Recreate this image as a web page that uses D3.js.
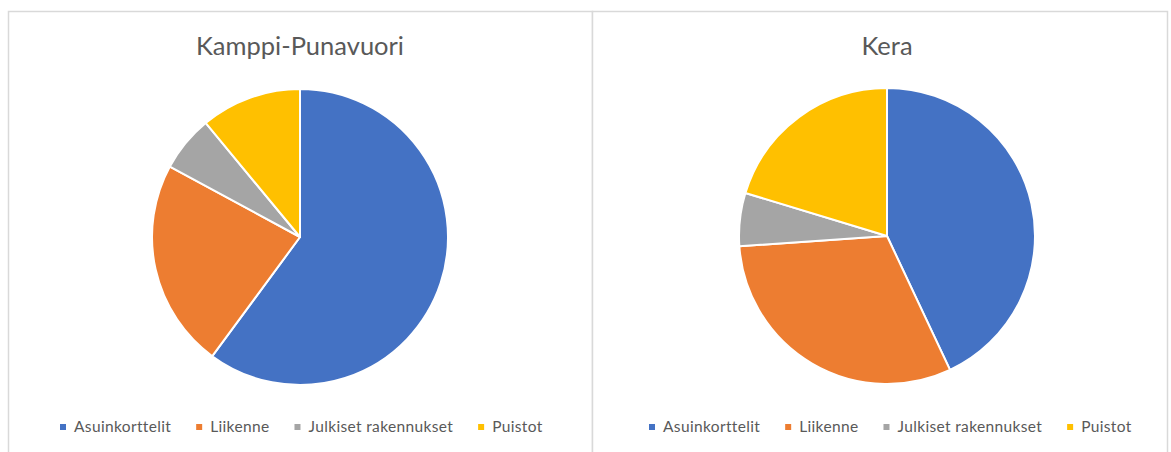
<!DOCTYPE html>
<html><head><meta charset="utf-8">
<script src="https://cdn.jsdelivr.net/npm/d3@7"></script>
<style>body{margin:0;background:#fff}svg{display:block}</style>
</head><body>
<script>
const categories = ["Asuinkorttelit", "Liikenne", "Julkiset rakennukset", "Puistot"];
const colors = ["#4472C4", "#ED7D31", "#A5A5A5", "#FFC000"];
const titles = ["Kamppi-Punavuori", "Kera"];
const kamppiValues = [60.1, 22.8, 6.1, 11.0];
const keraValues = [43.0, 30.9, 5.8, 20.3];

const W = 1171, H = 452;
const svg = d3.select("body").append("svg").attr("width", W).attr("height", H);
const font = "Lato, 'Open Sans', sans-serif";

const panels = [
  {x0: 8, x1: 592, cx: 300, cy: 237, r: 148, title: titles[0], values: kamppiValues, legendStart: 60},
  {x0: 592, x1: 1167, cx: 887, cy: 236, r: 148, title: titles[1], values: keraValues, legendStart: 649}
];

const color = d3.scaleOrdinal().domain(categories).range(colors);
const pie = d3.pie().sort(null).value(d => d.v);

panels.forEach(p => {
  const g = svg.append("g");
  g.append("rect").attr("x", p.x0 + 0.5).attr("y", 11.5).attr("width", p.x1 - p.x0).attr("height", 445)
    .attr("fill", "#fff").attr("stroke", "#d9d9d9").attr("stroke-width", 1.5);
  g.append("text").attr("x", p.cx).attr("y", 55).attr("text-anchor", "middle")
    .attr("font-family", font).attr("font-size", 25.5).attr("fill", "#595959").text(p.title);
  const data = categories.map((c, i) => ({c, v: p.values[i]}));
  const arc = d3.arc().innerRadius(0).outerRadius(p.r);
  g.append("g").attr("transform", `translate(${p.cx},${p.cy})`)
    .selectAll("path").data(pie(data)).join("path")
    .attr("d", arc).attr("fill", d => color(d.data.c))
    .attr("stroke", "#fff").attr("stroke-width", 2).attr("stroke-linejoin", "round");
  // legend
  const lg = g.append("g").attr("transform", `translate(${p.legendStart},427)`);
  let x = 0;
  categories.forEach((c, i) => {
    const item = lg.append("g").attr("transform", `translate(${x},0)`);
    item.append("rect").attr("x", 0).attr("y", -3).attr("width", 6).attr("height", 6).attr("fill", color(c));
    const t = item.append("text").attr("x", 14).attr("y", 0).attr("dy", "0.35em")
      .attr("font-family", font).attr("font-size", 15.5).attr("letter-spacing", 0.35)
      .attr("fill", "#595959").text(c);
    x += 14 + t.node().getComputedTextLength() + 25;
  });
});
</script>
</body></html>
